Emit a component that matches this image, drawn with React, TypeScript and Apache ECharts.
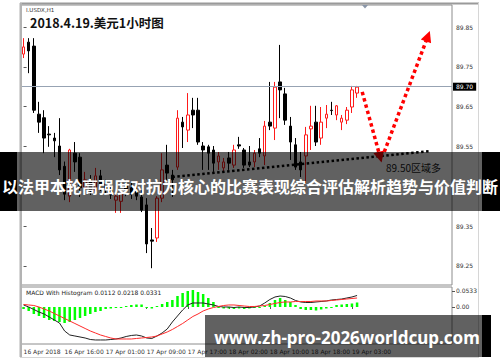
import React, { useEffect, useRef } from "react";
import * as echarts from "echarts";

// ---- price candles (USDX H1) ----
const opens = [89.782, 89.812, 89.802, 89.631, 89.622, 89.581, 89.571, 89.551, 89.500, 89.425, 89.533, 89.523, 89.446, 89.466, 89.438, 89.476, 89.456, 89.443, 89.415, 89.412, 89.451, 89.446, 89.438, 89.423, 89.403, 89.315, 89.320, 89.420, 89.503, 89.478, 89.498, 89.611, 89.591, 89.641, 89.641, 89.551, 89.549, 89.541, 89.511, 89.496, 89.521, 89.503, 89.554, 89.541, 89.511, 89.511, 89.544, 89.526, 89.611, 89.596, 89.712, 89.682, 89.601, 89.554, 89.511, 89.526, 89.594, 89.611, 89.571, 89.621, 89.641, 89.629, 89.611, 89.616, 89.649, 89.684];
const highs = [89.822, 89.822, 89.822, 89.662, 89.641, 89.601, 89.584, 89.621, 89.512, 89.544, 89.561, 89.533, 89.486, 89.478, 89.496, 89.491, 89.466, 89.451, 89.435, 89.443, 89.466, 89.461, 89.451, 89.440, 89.420, 89.345, 89.425, 89.533, 89.554, 89.491, 89.641, 89.624, 89.684, 89.672, 89.672, 89.561, 89.554, 89.551, 89.536, 89.521, 89.536, 89.554, 89.574, 89.546, 89.551, 89.541, 89.571, 89.614, 89.712, 89.712, 89.805, 89.697, 89.624, 89.571, 89.536, 89.599, 89.652, 89.652, 89.649, 89.654, 89.662, 89.654, 89.629, 89.649, 89.702, 89.702];
const lows = [89.772, 89.734, 89.634, 89.584, 89.533, 89.549, 89.523, 89.478, 89.415, 89.410, 89.486, 89.423, 89.440, 89.428, 89.433, 89.438, 89.430, 89.418, 89.383, 89.383, 89.425, 89.418, 89.415, 89.385, 89.282, 89.244, 89.310, 89.410, 89.461, 89.423, 89.491, 89.546, 89.561, 89.596, 89.554, 89.491, 89.491, 89.486, 89.491, 89.486, 89.491, 89.496, 89.544, 89.496, 89.498, 89.498, 89.523, 89.503, 89.591, 89.566, 89.621, 89.604, 89.516, 89.491, 89.473, 89.458, 89.541, 89.551, 89.554, 89.596, 89.629, 89.616, 89.591, 89.606, 89.634, 89.672];
const closes = [89.800, 89.790, 89.641, 89.611, 89.571, 89.579, 89.564, 89.491, 89.430, 89.541, 89.511, 89.446, 89.466, 89.438, 89.476, 89.456, 89.443, 89.428, 89.425, 89.433, 89.440, 89.430, 89.425, 89.390, 89.305, 89.312, 89.420, 89.491, 89.483, 89.466, 89.621, 89.599, 89.629, 89.629, 89.561, 89.541, 89.533, 89.508, 89.526, 89.511, 89.508, 89.541, 89.551, 89.503, 89.503, 89.533, 89.533, 89.601, 89.601, 89.699, 89.692, 89.616, 89.561, 89.498, 89.491, 89.579, 89.601, 89.561, 89.611, 89.631, 89.640, 89.652, 89.621, 89.641, 89.692, 89.699];

// ---- MACD panel ----
const macdLine = [0.0067, 0, -0.0083, -0.0167, -0.0233, -0.0333, -0.0433, -0.0533, -0.0799, -0.0933, -0.0966, -0.0999, -0.1033, -0.1083, -0.1099, -0.1099, -0.1099, -0.1083, -0.1066, -0.1033, -0.0983, -0.0949, -0.0933, -0.0966, -0.1033, -0.1049, -0.0966, -0.0866, -0.0733, -0.05, -0.03, -0.01, 0.0067, 0.0133, 0.0133, 0.0133, 0.01, 0.0067, 0.0017, 0, 0, -0.0017, 0, -0.0017, -0.0017, 0, 0.0033, 0.0133, 0.025, 0.0333, 0.0366, 0.035, 0.03, 0.0217, 0.0167, 0.015, 0.015, 0.0167, 0.0183, 0.02, 0.0233, 0.025, 0.0266, 0.03, 0.0333, 0.0383];
const signalLine = [0.0083, 0.0067, 0.005, 0, -0.0067, -0.0133, -0.0217, -0.03, -0.0383, -0.0466, -0.055, -0.0633, -0.0716, -0.0799, -0.0866, -0.0933, -0.0983, -0.1033, -0.1066, -0.1066, -0.1066, -0.1066, -0.1049, -0.1033, -0.1016, -0.0999, -0.0966, -0.0899, -0.0833, -0.0749, -0.065, -0.055, -0.0433, -0.0316, -0.0233, -0.0133, -0.0067, -0.0017, 0.0017, 0.005, 0.0067, 0.0067, 0.005, 0.0033, 0.0017, 0.0017, 0.0033, 0.005, 0.0083, 0.0117, 0.015, 0.0167, 0.0167, 0.0183, 0.0183, 0.0183, 0.0183, 0.02, 0.02, 0.02, 0.0217, 0.0233, 0.025, 0.0266, 0.0283, 0.03];
const histogram = [-0.0067, -0.0133, -0.0233, -0.03, -0.0366, -0.0433, -0.0466, -0.05, -0.0533, -0.05, -0.0433, -0.0366, -0.03, -0.0233, -0.0167, -0.0133, -0.0067, -0.005, -0.0033, -0.0017, 0.0017, 0.0067, 0.0083, 0.0083, -0.0017, -0.005, 0.0033, 0.01, 0.0167, 0.0233, 0.0366, 0.0466, 0.0533, 0.0566, 0.05, 0.0433, 0.03, 0.0167, -0.0017, -0.005, -0.005, -0.0067, -0.005, -0.0067, -0.005, -0.0033, -0.0017, 0.0033, 0.0133, 0.0233, 0.03, 0.0233, 0.0167, 0.0067, -0.0067, -0.01, -0.01, -0.0117, -0.0083, -0.005, -0.0017, 0.0067, 0.0083, 0.01, 0.0117, 0.015];

// ---- axis texts ----
const timeLabels = ["16 Apr 2018", "16 Apr 16:00", "17 Apr 01:00", "17 Apr 09:00", "17 Apr 17:00", "18 Apr 02:00", "18 Apr 10:00", "18 Apr 18:00", "19 Apr 03:00"];
const labelEvery = 8;
const priceTicks = [89.25, 89.35, 89.55, 89.65, 89.75, 89.85];
const currentPrice = 89.7;
const macdTicks = [0, 0.0533];

// ---- drawn annotations (bar index, price) ----
const trendLine = [[29, 89.473], [79.2, 89.538]];
const arrowDown = [[66, 89.687], [69.5, 89.523]];
const arrowUp = [[70.3, 89.536], [78.8, 89.827]];

const SLOTS = 84;

export default function App() {
  const ref = useRef<HTMLDivElement>(null);
  useEffect(() => {
    if (!ref.current) return;
    const chart = echarts.init(ref.current, null, { renderer: "svg" });
    const cats = Array.from({ length: SLOTS }, (_, i) => String(i));
    const candles = opens.map((o, i) => [o, closes[i], lows[i], highs[i]]);
    const showTick = (i: number) => i % labelEvery === 0 && i / labelEvery < timeLabels.length;
    const small = { fontSize: 6, color: "#333", fontFamily: "DejaVu Sans" };

    chart.setOption({
      animation: false,
      backgroundColor: "#fff",
      grid: [
        { left: 21, top: 5, width: 431, height: 280, show: true, borderColor: "#8c8c8c", borderWidth: 1, outerBoundsMode: "none" },
        { left: 21, top: 287, width: 431, height: 57, show: true, borderColor: "#8c8c8c", borderWidth: 1, outerBoundsMode: "none" },
      ],
      xAxis: [
        { type: "category", gridIndex: 0, data: cats, boundaryGap: true, axisLine: { show: false }, axisTick: { show: false }, axisLabel: { show: false }, splitLine: { show: false } },
        {
          type: "category", gridIndex: 1, data: cats, boundaryGap: true,
          axisLine: { show: false },
          axisTick: { show: true, interval: (i: number) => showTick(i), length: 2, alignWithLabel: true, lineStyle: { color: "#555" } },
          axisLabel: { interval: (i: number) => showTick(i), formatter: (_v: string, i: number) => timeLabels[i / labelEvery] ?? "", align: "left", margin: 4, ...small },
          splitLine: { show: false },
        },
        { type: "value", gridIndex: 0, min: -0.5, max: SLOTS - 0.5, show: false },
      ],
      yAxis: [
        {
          type: "value", gridIndex: 0, position: "right", min: 89.2018, max: 89.9053,
          axisLine: { show: false }, splitLine: { show: false },
          axisTick: { show: true, customValues: priceTicks, length: 3, lineStyle: { color: "#555" } },
          axisLabel: { customValues: priceTicks, formatter: (v: number) => v.toFixed(2), margin: 4, ...small },
        },
        {
          type: "value", gridIndex: 1, position: "right", min: -0.1233, max: 0.0666,
          axisLine: { show: false }, splitLine: { show: false },
          axisTick: { show: true, customValues: macdTicks, length: 3, lineStyle: { color: "#555" } },
          axisLabel: { customValues: macdTicks, formatter: (v: number) => (v === 0 ? "0.00" : v.toFixed(4)), margin: 4, ...small },
        },
      ],
      series: [
        {
          type: "candlestick", xAxisIndex: 0, yAxisIndex: 0, data: candles, barWidth: 3,
          itemStyle: { color: "#ffffff", color0: "#000000", borderColor: "#ff1a1a", borderColor0: "#000000", borderWidth: 1 },
          markLine: {
            silent: true, symbol: ["none", "none"],
            lineStyle: { color: "#97a3b3", width: 1, type: "solid" },
            label: { show: true, position: "end", formatter: currentPrice.toFixed(2), backgroundColor: "#000", color: "#fff", fontSize: 6, fontFamily: "DejaVu Sans", padding: [1, 3], distance: 1 },
            data: [{ yAxis: currentPrice }],
          },
          z: 3,
        },
        {
          type: "lines", coordinateSystem: "cartesian2d", xAxisIndex: 2, yAxisIndex: 0, silent: true,
          data: [{ coords: trendLine }], symbol: ["none", "none"],
          lineStyle: { color: "#000", width: 2.5, type: [2.5, 2.5], opacity: 1 }, z: 4,
        },
        {
          type: "lines", coordinateSystem: "cartesian2d", xAxisIndex: 2, yAxisIndex: 0, silent: true,
          data: [{ coords: arrowDown }, { coords: arrowUp }], symbol: ["none", "triangle"], symbolSize: 11,
          lineStyle: { color: "#ff0000", width: 3.5, type: [3.5, 3], opacity: 1 }, z: 5,
        },
        { type: "bar", xAxisIndex: 1, yAxisIndex: 1, data: histogram, barWidth: 2.5, barMinHeight: 1, itemStyle: { color: "#00ff00" } },
        { type: "line", xAxisIndex: 1, yAxisIndex: 1, data: macdLine, symbol: "none", lineStyle: { color: "#222", width: 1 } },
        { type: "line", xAxisIndex: 1, yAxisIndex: 1, data: signalLine, symbol: "none", lineStyle: { color: "#ff2a2a", width: 1 } },
      ],
      graphic: [
        { type: "rect", shape: { x: 20, y: 2.5, width: 459, height: 2 }, style: { fill: "#9a9a9a" }, z: 90 },
        { type: "rect", shape: { x: 19.5, y: 3, width: 2.5, height: 354 }, style: { fill: "#b3b3b3" }, z: 90 },
        { type: "line", shape: { x1: 478.5, y1: 3, x2: 478.5, y2: 357 }, style: { stroke: "#d6d6d6", lineWidth: 1 }, z: 90 },
        { type: "line", shape: { x1: 20, y1: 357.5, x2: 479, y2: 357.5 }, style: { stroke: "#d6d6d6", lineWidth: 1 }, z: 90 },
        { type: "polygon", shape: { points: [[362, 5], [368, 5], [365, 8.5]] }, style: { fill: "#8a96a8" }, z: 90 },
        { type: "text", x: 26, y: 9.5, style: { text: "I.USDX,H1", fontSize: 5.5, fill: "#333", fontFamily: "DejaVu Sans", verticalAlign: "middle" }, z: 90 },
        { type: "text", x: 30, y: 22, style: { text: "2018.4.19.美元1小时图", fontSize: 12.5, fontWeight: "bold", fill: "#111", fontFamily: "Noto Sans CJK SC", verticalAlign: "middle" }, z: 90 },
        { type: "text", x: 26, y: 292, style: { text: "MACD With Histogram 0.0112 0.0218 0.0331", fontSize: 6, fill: "#222", fontFamily: "DejaVu Sans", verticalAlign: "middle" }, z: 90 },
        { type: "text", x: 386, y: 167, style: { text: "89.50区域多", fontSize: 10, fill: "#1a1a1a", fontFamily: "Noto Sans CJK SC", verticalAlign: "middle" }, z: 50 },
        // overlay banner 1
        { type: "rect", shape: { x: 0, y: 152, width: 500, height: 59 }, style: { fill: "rgba(0,0,0,0.62)" }, z: 100 },
        { type: "rect", shape: { x: 0, y: 152, width: 17, height: 59 }, style: { fill: "#000" }, z: 101 },
        { type: "rect", shape: { x: 482, y: 152, width: 18, height: 59 }, style: { fill: "#000" }, z: 101 },
        { type: "text", x: 250, y: 186, style: { text: "以法甲本轮高强度对抗为核心的比赛表现综合评估解析趋势与价值判断", fontSize: 16, fontWeight: "bold", fill: "#fff", fontFamily: "Noto Sans CJK SC", align: "center", verticalAlign: "middle" }, z: 102 },
        // overlay banner 2
        { type: "rect", shape: { x: 205, y: 315, width: 277, height: 42 }, style: { fill: "rgba(0,0,0,0.62)" }, z: 100 },
        { type: "rect", shape: { x: 482, y: 315, width: 9, height: 42 }, style: { fill: "#000" }, z: 101 },
        { type: "text", x: 347, y: 337, style: { text: "www.zh-pro-2026worldcup.com", fontSize: 17, fontWeight: "bold", fill: "#fff", fontFamily: "Noto Sans", align: "center", verticalAlign: "middle" }, z: 102 },
      ],
    });
    return () => chart.dispose();
  }, []);
  return <div ref={ref} style={{ position: "fixed", left: 0, top: 0, width: 500, height: 362 }} />;
}
